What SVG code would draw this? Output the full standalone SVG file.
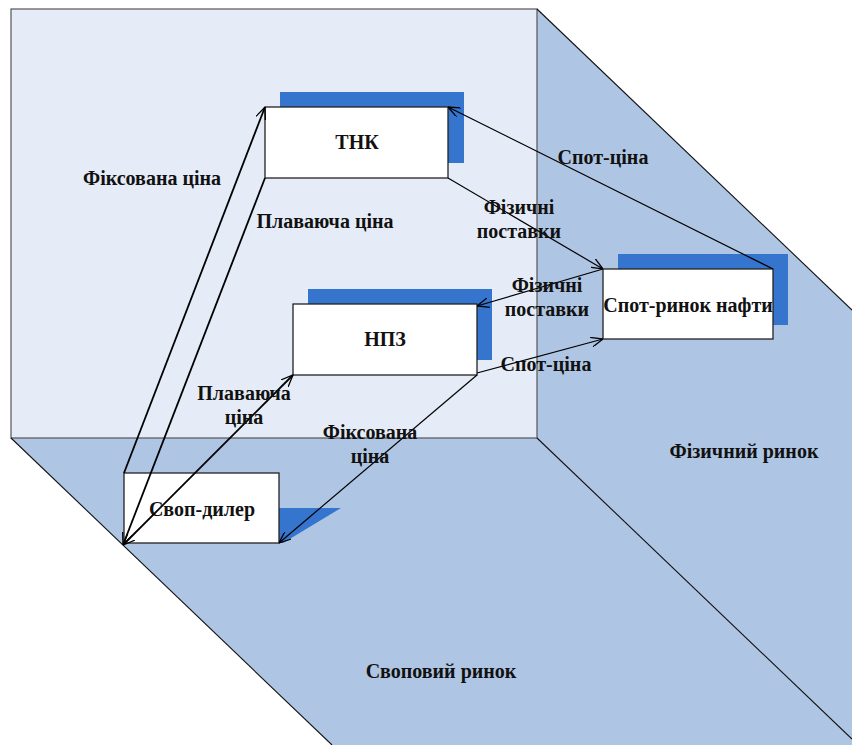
<svg xmlns="http://www.w3.org/2000/svg" width="852" height="745" viewBox="0 0 852 745">
  <style>
    .lbl { font-family: "Liberation Serif", "Times New Roman", serif; font-weight: bold; font-size: 20px; fill: #111; text-anchor: middle; }
    .node { fill: #ffffff; stroke: #222; stroke-width: 1.3; }
    .shadow { fill: #3575CE; stroke: none; }
    .edge { fill: none; stroke: #000; stroke-width: 1.2; }
    .edge.thick { stroke-width: 1.8; }
    .face-front { fill: #E5ECF7; stroke: #555; stroke-width: 1.2; }
    .face-side { fill: #AFC5E4; stroke: none; }
    .face-line { fill: none; stroke: #111; stroke-width: 1.1; }
  </style>
  <defs>
    <marker id="arr" viewBox="0 0 12 10" refX="12" refY="5" markerWidth="12" markerHeight="10" markerUnits="userSpaceOnUse" orient="auto-start-reverse">
      <path d="M0,0 L12,5 L0,10" fill="none" stroke="#000" stroke-width="1.3"/>
    </marker>
  </defs>

  <rect width="852" height="745" fill="#ffffff"/>

  <!-- market planes -->
  <g id="planes">
    <polygon class="face-side" points="537,9 852,310 852,745 537,438"/>
    <polygon class="face-side" points="11,438 537,438 852,739 852,745 332,745"/>
    <rect class="face-front" x="11" y="9" width="526" height="429"/>
    <line class="face-line" x1="537" y1="9" x2="852" y2="310"/>
    <line class="face-line" x1="537" y1="438" x2="852" y2="739"/>
    <line class="face-line" x1="11" y1="438" x2="332" y2="745"/>
    <text class="lbl" x="744" y="458">Фізичний ринок</text>
    <text class="lbl" x="441" y="678">Своповий ринок</text>
  </g>

  <!-- nodes -->
  <g id="node-tnk">
    <rect class="shadow" x="280" y="92" width="184" height="71"/>
    <rect class="node" x="265" y="107" width="183" height="71"/>
    <text class="lbl" x="357" y="149">ТНК</text>
  </g>
  <g id="node-npz">
    <rect class="shadow" x="308" y="289" width="184" height="71"/>
    <rect class="node" x="293" y="304" width="184" height="71"/>
    <text class="lbl" x="385" y="346">НПЗ</text>
  </g>
  <g id="node-spot">
    <rect class="shadow" x="618" y="254" width="170" height="71"/>
    <rect class="node" x="603" y="269" width="170" height="70"/>
    <text class="lbl" x="688" y="312">Спот-ринок нафти</text>
  </g>
  <g id="node-swap">
    <polygon class="shadow" points="279,508 341,508 283,543 279,543"/>
    <rect class="node" x="124" y="473" width="155" height="70"/>
    <text class="lbl" x="202" y="516">Своп-дилер</text>
  </g>

  <!-- connectors -->
  <g id="connectors">
    <line class="edge thick" x1="124" y1="473" x2="265" y2="107" marker-end="url(#arr)"/>
    <line class="edge thick" x1="265" y1="178" x2="123" y2="545" marker-end="url(#arr)"/>
    <line class="edge thick" x1="123" y1="545" x2="293" y2="375" marker-start="url(#arr)" marker-end="url(#arr)"/>
    <line class="edge" x1="477" y1="375" x2="279" y2="543" marker-end="url(#arr)"/>
    <line class="edge" x1="448" y1="178" x2="603" y2="269" marker-end="url(#arr)"/>
    <line class="edge" x1="603" y1="269" x2="477" y2="306" marker-end="url(#arr)"/>
    <line class="edge" x1="477" y1="373" x2="603" y2="339" marker-end="url(#arr)"/>
    <line class="edge" x1="773" y1="269" x2="448" y2="107" marker-end="url(#arr)"/>
  </g>

  <!-- connector labels -->
  <g id="edge-labels">
    <text class="lbl" x="152" y="185">Фіксована ціна</text>
    <text class="lbl" x="325" y="228">Плаваюча ціна</text>
    <text class="lbl" x="519" y="214">Фізичні</text>
    <text class="lbl" x="519" y="238">поставки</text>
    <text class="lbl" x="547" y="292">Фізичні</text>
    <text class="lbl" x="547" y="316">поставки</text>
    <text class="lbl" x="546" y="371">Спот-ціна</text>
    <text class="lbl" x="603" y="164">Спот-ціна</text>
    <text class="lbl" x="244" y="400">Плаваюча</text>
    <text class="lbl" x="244" y="424">ціна</text>
    <text class="lbl" x="370" y="439">Фіксована</text>
    <text class="lbl" x="370" y="463">ціна</text>
  </g>
</svg>
